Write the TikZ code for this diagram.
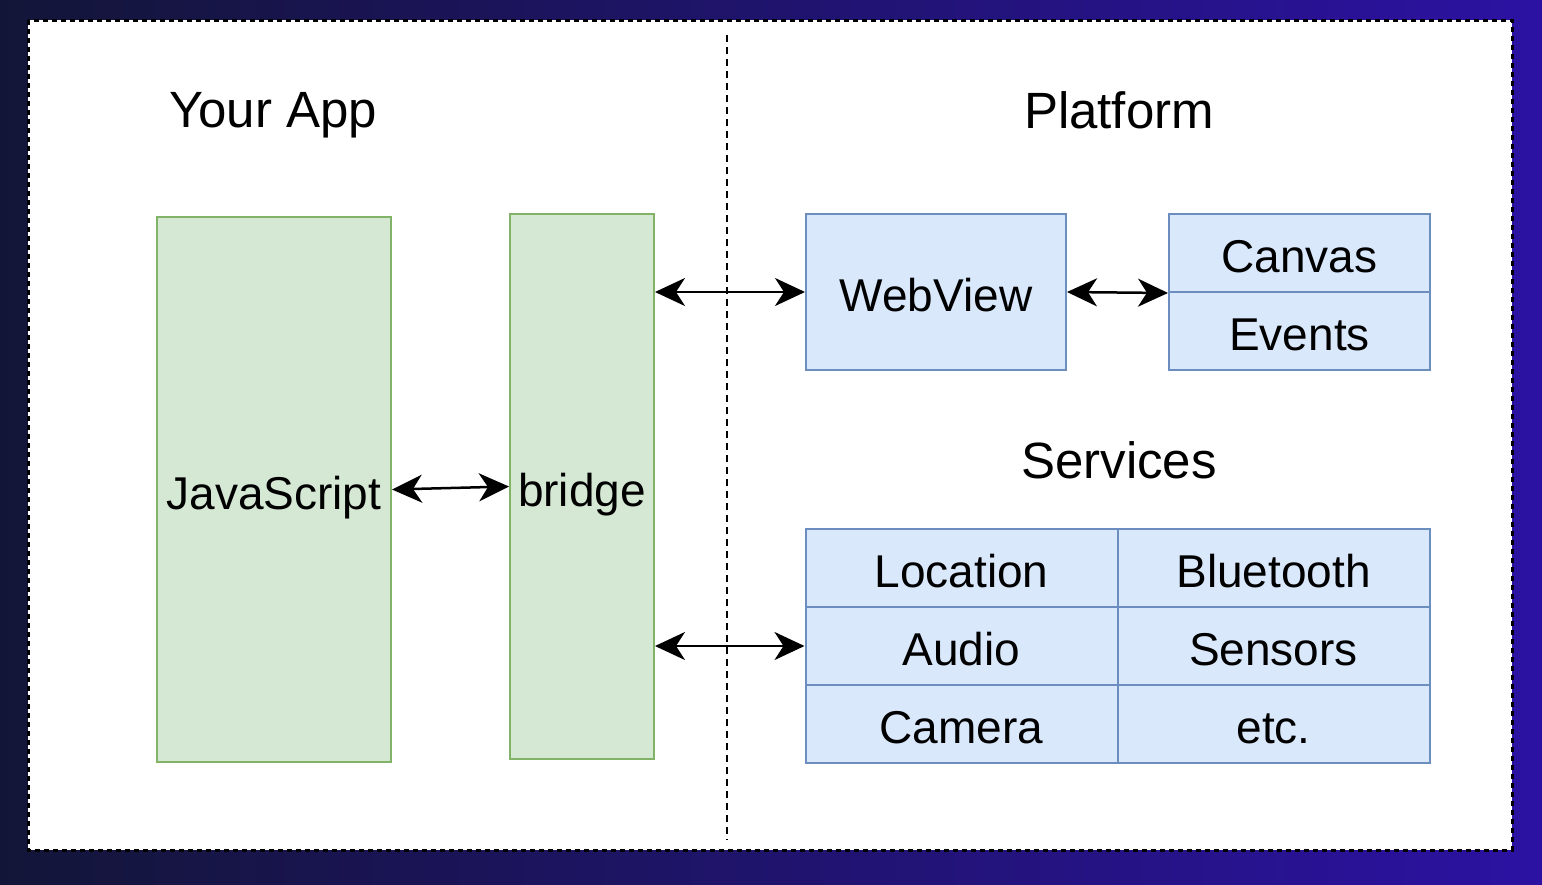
\documentclass[tikz,border=0pt]{standalone}
\usepackage{fontspec}
\setmainfont{Liberation Sans}
\usetikzlibrary{arrows.meta}
\definecolor{appfill}{HTML}{D5E8D4}
\definecolor{appline}{HTML}{82B366}
\definecolor{platfill}{HTML}{DAE8FC}
\definecolor{platline}{HTML}{6C8EBF}
\definecolor{bgdark}{RGB}{19,21,56}
\definecolor{bgmid}{RGB}{24,20,90}
\definecolor{bgblue}{RGB}{44,18,162}
\begin{document}
\begin{tikzpicture}[x=1pt, y=-1pt,
  >={Stealth[length=30pt, width=28pt, inset=9pt]},
  appbox/.style={draw=appline, fill=appfill, line width=2pt, inner sep=0pt},
  platbox/.style={draw=platline, fill=platfill, line width=2pt, inner sep=0pt},
  boxtext/.style={font=\fontsize{46}{46}\selectfont, text height=39pt, text depth=0pt},
  title/.style={font=\fontsize{51}{51}\selectfont, inner sep=0pt},
  link/.style={<->, line width=2.5pt}]
  % Fix the size of the page
  \useasboundingbox (0,0) rectangle (1542,884);
  \shade[left color=bgdark, middle color=bgmid, right color=bgblue] (0,0) rectangle (1542,884);

  % White sheet with a dashed border
  \draw[fill=white, line width=3pt, dash pattern=on 5pt off 4pt] (28,20) rectangle (1512,850);
  % Split between the app side and the platform side
  \draw[line width=2.5pt, dash pattern=on 7pt off 5pt] (727,35) -- (727,840);

  % Headings
  \node[title] (yourapp) at (273,115) {Your App};
  \node[title] (platform) at (1119,110) {Platform};
  \node[title] (services) at (1119,460) {Services};

  % Your App side
  \node[appbox, boxtext, minimum width=234pt, minimum height=545pt] (js) at (274,489.5) {JavaScript};
  \node[appbox, boxtext, minimum width=144pt, minimum height=545pt] (bridge) at (582,486.5) {bridge};

  % Platform side
  \node[platbox, boxtext, minimum width=260pt, minimum height=156pt] (webview) at (936,292) {WebView};
  \node[platbox, boxtext, minimum width=261pt, minimum height=78pt] (canvas) at (1299.5,253) {Canvas};
  \node[platbox, boxtext, minimum width=261pt, minimum height=78pt] (events) at (1299.5,331) {Events};

  % Grid of services, one cell at a time
  \foreach \name/\txt/\x/\y in {location/Location/961.5/568, bluetooth/Bluetooth/1273.5/568,
      audio/Audio/961.5/646, sensors/Sensors/1273.5/646,
      camera/Camera/961.5/723.5, etc/etc./1273.5/723.5} {
    \node[platbox, boxtext, minimum width=312pt, minimum height=78pt] (\name) at (\x,\y) {\txt};
  }

  % Arrows between the parts
  \draw[link] (js.east) -- (bridge.west);
  \draw[link] (bridge.east |- webview.west) -- (webview.west);
  \draw[link] (webview.east) -- (canvas.south west);
  \draw[link] (bridge.east |- audio.west) -- (audio.west);
\end{tikzpicture}
\end{document}
